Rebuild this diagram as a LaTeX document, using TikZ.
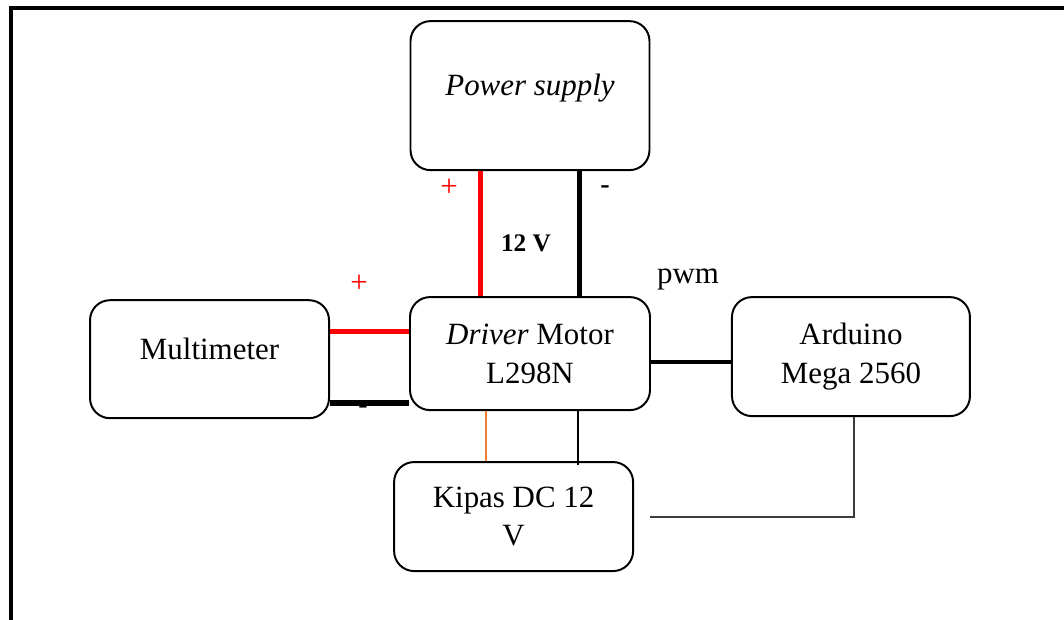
\documentclass[tikz,border=0pt]{standalone}
\usepackage{fontspec}
\setmainfont{Liberation Serif}
\usepackage{tikz}
\usetikzlibrary{positioning, calc}

\definecolor{wireorange}{RGB}{237,125,49}
\definecolor{wiregray}{RGB}{60,60,60}

\begin{document}
\begin{tikzpicture}[
                box/.style={rectangle, draw=black, line width=1.4pt, rounded corners=0.5cm, minimum width=5.975cm, minimum height=2.95cm, align=center, font=\fontsize{22}{28}\selectfont},
                baseline mid/.style={text height=0.5cm, text depth=0.5cm},
                wire/.style={line width=3.5pt},
                thinwire/.style={line width=0.8pt},
                lbl/.style={font=\fontsize{22}{26}\selectfont}
            ]
            \useasboundingbox (0,0) rectangle (26.6,15.5);

            % Frame
            \draw[line width=3.2pt] (0.275,0) -- (0.275,15.3) -- (26.6,15.3);

            % Nodes
            \node[box, minimum width=6cm, minimum height=2.825cm] (drv) at (13.25,6.66) {\textit{Driver} Motor\\L298N};
            \node[box, baseline mid, minimum height=3.725cm, above=3.125cm of drv] (ps) {\textit{Power supply}};
            \node[box, baseline mid, left=1.975cm of drv, yshift=-0.14cm] (mm) {Multimeter};
            \node[box, minimum width=5.95cm, minimum height=2.975cm, right=2cm of drv, yshift=-0.075cm] (ard) {Arduino\\Mega 2560};
            \node[box, minimum height=2.725cm, font=\fontsize{22}{27}\selectfont, below=1.25cm of drv, xshift=-0.41cm] (fan) {Kipas DC 12\\V};
            \coordinate (fanin) at (16.25,2.575);

            % Wires
            \draw[wire, red] ([xshift=-1.24cm]ps.south) -- ([xshift=-1.24cm]ps.south |- drv.north);
            \draw[wire, black] ([xshift=1.24cm]ps.south) -- ([xshift=1.24cm]ps.south |- drv.north);
            \draw[wire, red] ([yshift=0.7cm]mm.east) -- ([yshift=0.7cm]mm.east -| drv.west);
            \draw[wire, black, line width=4pt] ([yshift=-1.1cm]mm.east) -- ([yshift=-1.1cm]mm.east -| drv.west);
            \draw[wire, black] ([yshift=-0.21cm]drv.east) -- ([yshift=-0.21cm]drv.east -| ard.west);
            \draw[thinwire, wireorange] ([xshift=-1.1cm]drv.south) -- ([xshift=-1.1cm]drv.south |- fan.north);
            \draw[thinwire, black] ([xshift=1.2cm]drv.south) -- ([xshift=1.2cm,yshift=-0.1cm]drv.south |- fan.north);
            \draw[thinwire, wiregray] ([xshift=0.075cm]ard.south) |- (fanin);

            % Labels
            \node[lbl, text=red] (psplus) at (11.225,10.8) {+};
            \node[lbl, font=\fontsize{20}{22}\selectfont\bfseries] (psminus) at (15.125,10.75) {-};
            \node[lbl, font=\fontsize{18}{20}\selectfont\bfseries] (volt) at (13.15,9.425) {12 V};
            \node[lbl] (pwm) at (17.2,8.5) {pwm};
            \node[lbl, text=red] (mmplus) at (8.975,8.4) {+};
            \node[lbl, font=\fontsize{20}{22}\selectfont\bfseries] (mmminus) at (9.075,5.265) {-};

        \end{tikzpicture}
\end{document}
